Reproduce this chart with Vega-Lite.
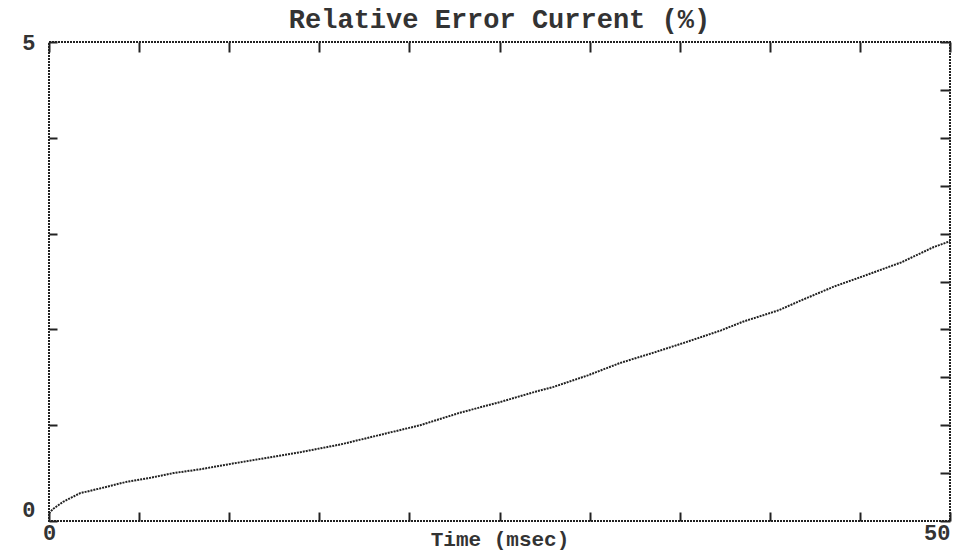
{
  "$schema": "https://vega.github.io/schema/vega-lite/v6.json",
  "width": 901,
  "height": 479,
  "autosize": "none",
  "padding": {"left": 49, "top": 42, "right": 12, "bottom": 29},
  "background": "white",
  "title": {
    "text": "Relative Error Current (%)",
    "font": "Liberation Mono",
    "fontSize": 27,
    "fontWeight": "bold",
    "color": "#333",
    "offset": -3
  },
  "config": {
    "view": {"stroke": "#222", "strokeWidth": 2, "strokeDash": [2, 1]},
    "axis": {
      "grid": false,
      "domain": false,
      "tickColor": "#222",
      "tickWidth": 2,
      "labelOverlap": false,
      "labelFont": "Liberation Mono",
      "labelFontWeight": "bold",
      "labelFontSize": 22,
      "labelColor": "#333",
      "titleFont": "Liberation Mono",
      "titleFontWeight": "bold",
      "titleColor": "#333"
    }
  },
  "data": {
    "values": [
      {"t": 0, "v": 0.08},
      {"t": 0.22, "v": 0.125},
      {"t": 0.78, "v": 0.2},
      {"t": 1.72, "v": 0.29},
      {"t": 2.83, "v": 0.34},
      {"t": 4.33, "v": 0.41},
      {"t": 5.6, "v": 0.45},
      {"t": 6.9, "v": 0.5},
      {"t": 8.4, "v": 0.54},
      {"t": 10.2, "v": 0.6},
      {"t": 12.1, "v": 0.66},
      {"t": 14, "v": 0.72},
      {"t": 16.2, "v": 0.8},
      {"t": 18.4, "v": 0.9},
      {"t": 20.6, "v": 1.0},
      {"t": 22.8, "v": 1.13},
      {"t": 25, "v": 1.24},
      {"t": 27, "v": 1.35},
      {"t": 28, "v": 1.4},
      {"t": 29.9, "v": 1.52},
      {"t": 31.7, "v": 1.65},
      {"t": 33.6, "v": 1.76},
      {"t": 35.4, "v": 1.87},
      {"t": 37.3, "v": 1.99},
      {"t": 38.5, "v": 2.08},
      {"t": 40.5, "v": 2.2},
      {"t": 41.7, "v": 2.3},
      {"t": 43.6, "v": 2.45},
      {"t": 45.4, "v": 2.57},
      {"t": 47.3, "v": 2.7},
      {"t": 49.1, "v": 2.86},
      {"t": 50, "v": 2.92}
    ]
  },
  "layer": [
    {
      "mark": {"type": "line", "color": "#222", "strokeWidth": 2, "strokeDash": [2, 1]},
      "encoding": {
        "x": {
          "field": "t", "type": "quantitative",
          "scale": {"domain": [0, 50], "nice": false},
          "axis": {
            "orient": "bottom",
            "values": [0, 5, 10, 15, 20, 25, 30, 35, 40, 45, 50],
            "tickSize": -9,
            "format": "d",
            "labelExpr": "datum.value == 0 || datum.value == 50 ? datum.label : ''",
            "labelAlign": {"condition": {"test": "datum.value == 50", "value": "right"}, "value": "center"},
            "labelBaseline": "top",
            "labelPadding": 10,
            "title": "Time (msec)",
            "titleFontSize": 21,
            "titleBaseline": "middle",
            "titleY": 18
          }
        },
        "y": {
          "field": "v", "type": "quantitative",
          "scale": {"domain": [0, 5], "nice": false},
          "axis": {
            "orient": "left",
            "values": [0, 0.5, 1, 1.5, 2, 2.5, 3, 3.5, 4, 4.5, 5],
            "tickSize": -8,
            "format": "d",
            "labelExpr": "datum.value == 0 || datum.value == 5 ? datum.label : ''",
            "labelBaseline": {"condition": {"test": "datum.value == 0", "value": "bottom"}, "value": "middle"},
            "labelPadding": 22,
            "title": null
          }
        }
      }
    },
    {
      "mark": {"type": "line", "opacity": 0},
      "encoding": {
        "x": {
          "field": "t", "type": "quantitative",
          "axis": {"orient": "top", "values": [0, 5, 10, 15, 20, 25, 30, 35, 40, 45, 50], "tickSize": -10, "labels": false, "title": null}
        },
        "y": {
          "field": "v", "type": "quantitative",
          "axis": {"orient": "right", "values": [0, 0.5, 1, 1.5, 2, 2.5, 3, 3.5, 4, 4.5, 5], "tickSize": -10, "labels": false, "title": null}
        }
      }
    }
  ],
  "resolve": {"axis": {"x": "independent", "y": "independent"}}
}
